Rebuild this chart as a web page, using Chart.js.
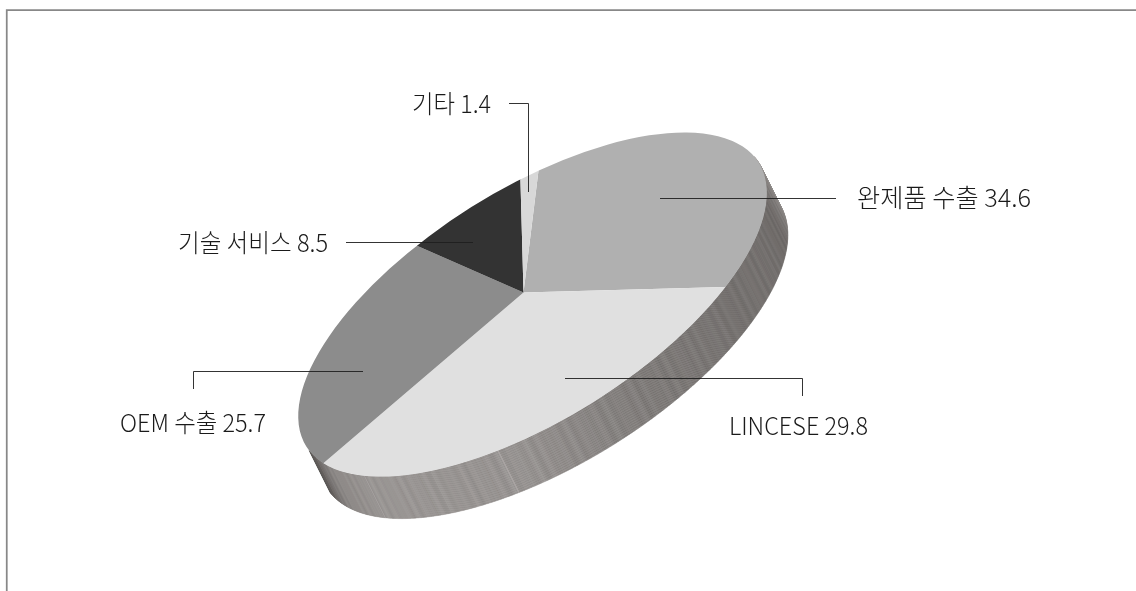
<!DOCTYPE html>
<html lang="ko">
<head>
<meta charset="utf-8">
<title>Pie</title>
<script src="https://cdn.jsdelivr.net/npm/chart.js@4"></script>
<style>
  html, body { margin: 0; padding: 0; background: #fff; }
  canvas { display: block; }
</style>
</head>
<body>
<canvas id="pie" width="1136" height="591"></canvas>
<script>
// data
const categories = ['완제품 수출', 'LINCESE', 'OEM 수출', '기술 서비스', '기타'];
const shares = [34.6, 29.8, 25.7, 8.5, 1.4];
const sliceColors = ['#b0b0b0', '#e0e0e0', '#8c8c8c', '#333333', '#d8d8d8'];

// callouts: text box (left, baseline, width) and leader line, same order as categories
const textBoxes = [[857, 207, 174], [729, 435, 139], [120, 432, 146], [178, 252, 150], [412, 113, 79]];
const leaders = [
  [[660, 198.5], [836, 198.5]],
  [[565, 378.5], [802.5, 378.5], [802.5, 396]],
  [[363, 371.5], [193.5, 371.5], [193.5, 389]],
  [[473, 242.5], [346, 242.5]],
  [[509, 103.5], [528.5, 103.5], [528.5, 192]]
];

// tilted disc
const TILT = -32.1 * Math.PI / 180;
const RX = 267, RY = 115;            // top face half axes
const FACE = { x: 532.5, y: 304.5 }; // top face centre
const APEX = { x: 523.5, y: 292.5 }; // where the slices meet (a bit off centre, perspective)
const DEPTH = { x: 21, y: 42 };      // thickness of the wall
const e1 = { x: Math.cos(TILT), y: Math.sin(TILT) };
const e2 = { x: -Math.sin(TILT), y: Math.cos(TILT) };

// wall shade along the rim [deg, grey]
const wallStops = [[-4, 170], [8, 135], [20, 106], [50, 106], [80, 118], [110, 142], [150, 145], [165, 135], [177, 92]];

const wallGrey = (deg) => {
  for (let i = 1; i < wallStops.length; i++) {
    if (deg <= wallStops[i][0]) {
      const a = wallStops[i - 1], b = wallStops[i];
      return a[1] + (b[1] - a[1]) * (deg - a[0]) / (b[0] - a[0]);
    }
  }
  return wallStops[wallStops.length - 1][1];
};

const rimPoint = (deg) => {
  const t = deg * Math.PI / 180;
  const u = RX * Math.cos(t), v = RY * Math.sin(t);
  return { x: FACE.x + u * e1.x + v * e2.x, y: FACE.y + u * e1.y + v * e2.y };
};

const drawWall = (ctx) => {
  const step = 0.25;
  for (let deg = -4; deg < 177.5; deg += step) {
    const p = rimPoint(deg), q = rimPoint(deg + step);
    let g = wallGrey(deg) + 6 * Math.sin(deg * 2.3) * Math.sin(deg * 0.37);
    if (deg > 105 && Math.abs(Math.sin(deg * 3.1)) < 0.012) g += 20; // thin light streaks
    const c = `rgb(${Math.round(g + 2)},${Math.round(g - 2)},${Math.round(g - 4)})`;
    ctx.fillStyle = c;
    ctx.strokeStyle = c;
    ctx.lineWidth = 0.4;
    ctx.beginPath();
    ctx.moveTo(p.x, p.y);
    ctx.lineTo(q.x, q.y);
    ctx.lineTo(q.x + DEPTH.x, q.y + DEPTH.y);
    ctx.lineTo(p.x + DEPTH.x, p.y + DEPTH.y);
    ctx.closePath();
    ctx.fill();
    ctx.stroke();
  }
};

const discPlugin = {
  id: 'disc',
  beforeDatasetsDraw(chart) {
    const ctx = chart.ctx;
    const arc = chart.getDatasetMeta(0).data[0];
    drawWall(ctx);
    ctx.save();
    // slices are drawn oversized and trimmed to the off-centre top face
    ctx.beginPath();
    ctx.ellipse(FACE.x, FACE.y, RX, RY, TILT, 0, Math.PI * 2);
    ctx.clip();
    const s = 1.3 / arc.outerRadius;
    const a = e1.x * RX * s, b = e1.y * RX * s, c = e2.x * RY * s, d = e2.y * RY * s;
    ctx.transform(a, b, c, d, APEX.x - a * arc.x - c * arc.y, APEX.y - b * arc.x - d * arc.y);
  },
  afterDatasetsDraw(chart) {
    const ctx = chart.ctx;
    ctx.restore();

    // frame, open at the right and the bottom
    ctx.strokeStyle = '#888888';
    ctx.lineWidth = 1.75;
    ctx.beginPath();
    ctx.moveTo(6.75, 591);
    ctx.lineTo(6.75, 10);
    ctx.lineTo(1136, 10);
    ctx.stroke();

    // leaders
    ctx.strokeStyle = 'rgba(30,30,30,0.9)';
    ctx.lineWidth = 1;
    leaders.forEach((pts) => {
      ctx.beginPath();
      pts.forEach((p, i) => (i ? ctx.lineTo(p[0], p[1]) : ctx.moveTo(p[0], p[1])));
      ctx.stroke();
    });

    // labels, squeezed or stretched to the width of the original type
    ctx.fillStyle = '#1a1a1a';
    ctx.font = '300 25px "Noto Sans CJK KR", "Noto Sans", sans-serif';
    ctx.textAlign = 'left';
    ctx.textBaseline = 'alphabetic';
    categories.forEach((name, i) => {
      const box = textBoxes[i];
      const text = name + ' ' + shares[i];
      ctx.save();
      ctx.translate(box[0], box[1]);
      ctx.scale(box[2] / ctx.measureText(text).width, 1);
      ctx.fillText(text, 0, 0);
      ctx.restore();
    });
  }
};

new Chart(document.getElementById('pie'), {
  type: 'pie',
  data: {
    labels: categories,
    datasets: [{
      data: shares,
      backgroundColor: sliceColors,
      borderWidth: 0,
      clip: false
    }]
  },
  options: {
    responsive: false,
    animation: false,
    events: [],
    rotation: 19.3,
    plugins: {
      legend: { display: false },
      tooltip: { enabled: false }
    }
  },
  plugins: [discPlugin]
});
</script>
</body>
</html>
